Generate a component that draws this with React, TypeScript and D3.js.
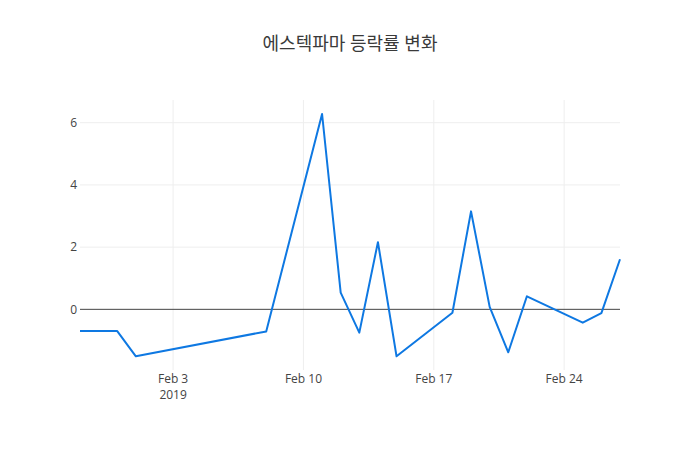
import React from "react";
import * as d3 from "d3";

const title = "에스텍파마 등락률 변화";
const dates = [
  "2019-01-29", "2019-01-30", "2019-01-31", "2019-02-01", "2019-02-08",
  "2019-02-11", "2019-02-12", "2019-02-13", "2019-02-14", "2019-02-15",
  "2019-02-18", "2019-02-19", "2019-02-20", "2019-02-21", "2019-02-22",
  "2019-02-25", "2019-02-26", "2019-02-27",
];
const changes = [
  -0.70, -0.70, -0.70, -1.51, -0.71,
  6.28, 0.54, -0.75, 2.16, -1.51,
  -0.11, 3.15, 0.08, -1.38, 0.42,
  -0.43, -0.12, 1.61,
];
const yTicks = [0, 2, 4, 6];
const xTickDates = ["2019-02-03", "2019-02-10", "2019-02-17", "2019-02-24"];
const yDomain = [-1.95, 6.73];

const W = 700;
const H = 450;
const M = { l: 80, r: 80, t: 100, b: 80 };
const FONT = "'Open Sans', 'Noto Sans CJK KR', sans-serif";

export default function App() {
  const parse = d3.timeParse("%Y-%m-%d");
  const pts = dates.map((d, i) => ({ x: parse(d) as Date, y: changes[i] }));
  const x = d3
    .scaleTime()
    .domain(d3.extent(pts, (p) => p.x) as [Date, Date])
    .range([M.l, W - M.r]);
  const y = d3.scaleLinear().domain(yDomain).range([H - M.b, M.t]);
  const line = d3
    .line<{ x: Date; y: number }>()
    .x((p) => x(p.x))
    .y((p) => y(p.y));
  const fmt = d3.timeFormat("%b %-d");
  const xTicks = xTickDates.map((d) => parse(d) as Date);

  return (
    <svg
      width={W}
      height={H}
      style={{ position: "absolute", left: 0, top: 0, background: "#fff" }}
      fontFamily={FONT}
    >
      <rect x={0} y={0} width={W} height={H} fill="#fff" />
      {xTicks.map((t, i) => (
        <line
          key={"xg" + i}
          x1={x(t)}
          x2={x(t)}
          y1={M.t}
          y2={H - M.b}
          stroke="#eee"
          strokeWidth={1}
        />
      ))}
      {yTicks
        .filter((v) => v !== 0)
        .map((v) => (
          <line
            key={"yg" + v}
            x1={M.l}
            x2={W - M.r}
            y1={y(v)}
            y2={y(v)}
            stroke="#eee"
            strokeWidth={1}
          />
        ))}
      <line
        x1={M.l}
        x2={W - M.r}
        y1={y(0)}
        y2={y(0)}
        stroke="#444"
        strokeWidth={1}
      />
      <path
        d={line(pts) || ""}
        fill="none"
        stroke="#0e78e2"
        strokeWidth={2}
        strokeLinejoin="round"
      />
      {yTicks.map((v) => (
        <text
          key={"yt" + v}
          x={M.l - 3}
          y={y(v)}
          dy="0.35em"
          textAnchor="end"
          fontSize={12}
          fill="#444"
        >
          {v}
        </text>
      ))}
      {xTicks.map((t, i) => (
        <text
          key={"xt" + i}
          x={x(t)}
          y={383}
          textAnchor="middle"
          fontSize={12}
          fill="#444"
        >
          {fmt(t)}
          {i === 0 && (
            <tspan x={x(t)} y={399}>
              {d3.timeFormat("%Y")(t)}
            </tspan>
          )}
        </text>
      ))}
      <text
        x={W / 2}
        y={50}
        textAnchor="middle"
        fontSize={18}
        fill="#3a3a3a"
      >
        {title}
      </text>
    </svg>
  );
}
